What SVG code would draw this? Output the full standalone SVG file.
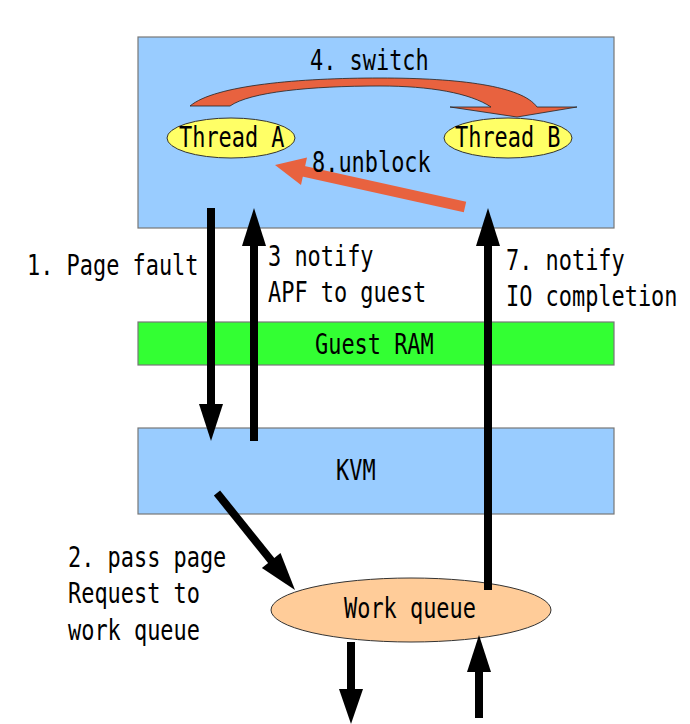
<svg xmlns="http://www.w3.org/2000/svg" width="690" height="724" viewBox="0 0 690 724">
<style>
text{font-family:"DejaVu Sans Mono","Liberation Mono",monospace;font-size:28px;fill:#000}
.box{stroke:#777;stroke-width:1.2}
.blk{stroke:#000;stroke-width:8;fill:none}
.hd{fill:#000}
.red{fill:#e8623f}
</style>
<rect width="690" height="724" fill="#fff"/>
<g id="guest">
<rect class="box" x="138" y="37" width="476" height="191" fill="#99ccff"/>
</g>
<g id="threadA">
<ellipse cx="231" cy="138" rx="64" ry="20" fill="#ffff66" stroke="#333" stroke-width="1"/>
<text transform="matrix(0.783 0 0 1 179 147)">Thread A</text>
</g>
<g id="threadB">
<ellipse cx="508" cy="138" rx="64" ry="20" fill="#ffff66" stroke="#333" stroke-width="1"/>
<text transform="matrix(0.783 0 0 1 455 147)">Thread B</text>
</g>
<g id="guestram">
<rect class="box" x="138" y="322" width="476" height="43" fill="#33ff33"/>
<text transform="matrix(0.783 0 0 1 315 354)">Guest RAM</text>
</g>
<g id="kvm">
<rect class="box" x="138" y="428" width="476" height="86" fill="#99ccff"/>
<text transform="matrix(0.783 0 0 1 336 480)">KVM</text>
</g>
<g id="workqueue">
<ellipse cx="411" cy="610" rx="140" ry="32" fill="#ffcc99" stroke="#333" stroke-width="1"/>
<text transform="matrix(0.783 0 0 1 344 618)">Work queue</text>
</g>
<g id="connectors">
<path class="red" stroke="#222" stroke-width="0.8" d="M190,106 C215,85 300,78 380,78 C460,78 522,86 537,107 L577,107 L517,117 L450,107 L491,107 C470,93 430,86 380,86 C310,86 250,92 230,106 Z"/>
<line x1="465" y1="207" x2="300" y2="170.5" stroke="#e8623f" stroke-width="11"/>
<polygon class="red" points="275,165 307,157.5 301,185"/>
<line class="blk" x1="211" y1="208" x2="211" y2="410"/>
<polygon class="hd" points="199,404 223,404 211,441"/>
<line class="blk" x1="254" y1="441" x2="254" y2="240"/>
<polygon class="hd" points="242,246 266,246 254,208"/>
<line class="blk" x1="488" y1="590" x2="488" y2="240"/>
<polygon class="hd" points="476,246 500,246 488,208"/>
<line class="blk" x1="217" y1="493" x2="274" y2="564"/>
<polygon class="hd" points="261.9,567.9 280.5,552.9 295,590"/>
<line class="blk" x1="351" y1="642" x2="351" y2="694"/>
<polygon class="hd" points="339,689 363,689 351,724"/>
<line class="blk" x1="479" y1="718" x2="479" y2="666"/>
<polygon class="hd" points="467,672 491,672 479,635"/>
</g>
<g id="labels">
<text transform="matrix(0.783 0 0 1 310 70)">4. switch</text>
<text transform="matrix(0.783 0 0 1 312 172)">8.unblock</text>
<text transform="matrix(0.783 0 0 1 27 275)">1. Page fault</text>
<text transform="matrix(0.783 0 0 1 268 266)">3 notify</text>
<text transform="matrix(0.783 0 0 1 268 302)">APF to guest</text>
<text transform="matrix(0.783 0 0 1 506 270)">7. notify</text>
<text transform="matrix(0.783 0 0 1 506 306)">IO completion</text>
<text transform="matrix(0.783 0 0 1 68 567)">2. pass page</text>
<text transform="matrix(0.783 0 0 1 68 603)">Request to</text>
<text transform="matrix(0.783 0 0 1 68 640)">work queue</text>
</g>
</svg>
